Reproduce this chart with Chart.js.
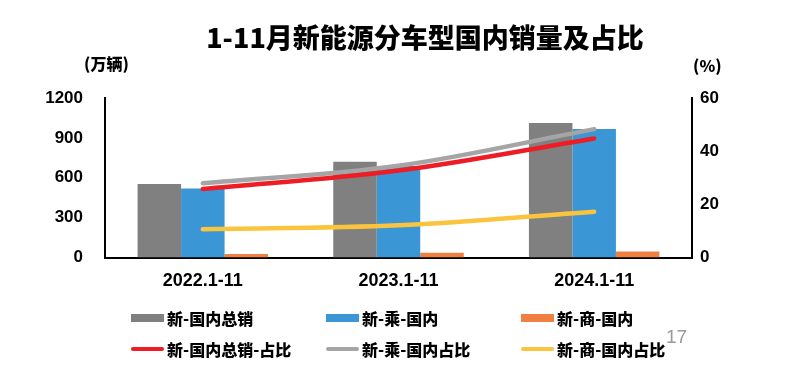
<!DOCTYPE html>
<html lang="zh-CN">
<head>
<meta charset="utf-8">
<title>1-11月新能源分车型国内销量及占比</title>
<script src="https://cdn.jsdelivr.net/npm/chart.js@4/dist/chart.umd.min.js"></script>
<style>
    body { margin: 0; background: #fff; }
    #wrap { position: relative; width: 811px; height: 380px; overflow: hidden; font-family: "Noto Sans CJK SC", "Noto Sans", sans-serif; }
    #chart { position: absolute; left: 0; top: 0; }
    .title { position: absolute; left: 0; width: 850px; top: 21px; text-align: center; font-size: 27px; font-weight: 900; line-height: 32px; color: #000; }
    .unit { position: absolute; font-size: 16px; font-weight: 900; line-height: 20px; color: #000; }
    #legend { position: absolute; left: 0; top: 0; width: 811px; height: 380px; pointer-events: none; }
    .item { position: absolute; display: flex; align-items: center; font-size: 16px; font-weight: 900; line-height: 20px; color: #000; white-space: nowrap; }
    .swatch { display: inline-block; width: 33px; margin-right: 3px; }
    .page { position: absolute; left: 666px; top: 326px; font-family: "Liberation Sans", sans-serif; font-size: 19px; color: #999; }
</style>
</head>
<body>
<div id="wrap">
    <canvas id="chart" width="811" height="380"></canvas>
    <div class="title">1-11月新能源分车型国内销量及占比</div>
    <div class="unit" style="left:84px; top:53px;">(万辆)</div>
    <div class="unit" style="left:693px; top:55px;">(%)</div>
    <div id="legend"></div>
    <div class="page">17</div>
</div>
<script>
// Datos del gráfico
const categories = ['2022.1-11', '2023.1-11', '2024.1-11'];
const totalDomestic = [553, 720, 1012];
const passengerDomestic = [520, 688, 966];
const commercialDomestic = [26, 36, 45];
const totalShare = [25.8, 32.7, 44.8];
const passengerShare = [27.9, 34.5, 48.3];
const commercialShare = [10.6, 12.1, 17.2];
const leftTicks = [0, 300, 600, 900, 1200];
const rightTicks = [0, 20, 40, 60];

// Área del gráfico (px)
const plotLeft = 105;
const plotRight = 692;
const plotTop = 98;
const plotBottom = 257.5;

const tickFont = { family: '"Liberation Sans", Arial, sans-serif', size: 17, weight: 'bold' };

function barSet(label, data, color) {
    return {
        type: 'bar',
        label: label,
        data: data,
        backgroundColor: color,
        borderWidth: 0,
        categoryPercentage: 0.667,
        barPercentage: 1,
        yAxisID: 'y',
        order: 2
    };
}

function lineSet(label, data, color) {
    return {
        type: 'line',
        label: label,
        data: data,
        borderColor: color,
        backgroundColor: color,
        borderWidth: 4.5,
        borderCapStyle: 'round',
        pointRadius: 0,
        tension: 0.35,
        fill: false,
        yAxisID: 'y1',
        order: 1
    };
}

const ctx = document.getElementById('chart').getContext('2d');
const chart = new Chart(ctx, {
    data: {
        labels: categories,
        datasets: [
            barSet('新-国内总销', totalDomestic, '#808080'),
            barSet('新-乘-国内', passengerDomestic, '#3a96d5'),
            barSet('新-商-国内', commercialDomestic, '#ef8042'),
            lineSet('新-国内总销-占比', totalShare, '#ee1c24'),
            lineSet('新-乘-国内占比', passengerShare, '#a5a5a5'),
            lineSet('新-商-国内占比', commercialShare, '#fbc43f')
        ]
    },
    options: {
        responsive: false,
        animation: false,
        layout: { padding: { top: plotTop, left: 0, right: 0, bottom: 0 } },
        plugins: {
            legend: { display: false },
            title: { display: false },
            tooltip: { enabled: false }
        },
        scales: {
            x: {
                grid: { display: false, drawTicks: false },
                border: { display: true, color: '#000', width: 2 },
                ticks: { color: '#000', padding: 13, font: { family: '"Liberation Sans", Arial, sans-serif', size: 18, weight: 'bold' } },
                afterFit: (s) => { s.height = 380 - plotBottom; }
            },
            y: {
                position: 'left',
                min: 0,
                max: 1200,
                afterBuildTicks: (s) => { s.ticks = leftTicks.map(v => ({ value: v })); },
                grid: { display: false, drawTicks: false },
                border: { display: true, color: '#000', width: 2 },
                ticks: { color: '#000', padding: 22, font: tickFont, callback: (v) => String(v) },
                afterFit: (s) => { s.width = plotLeft; }
            },
            y1: {
                position: 'right',
                min: 0,
                max: 60,
                afterBuildTicks: (s) => { s.ticks = rightTicks.map(v => ({ value: v })); },
                grid: { display: false, drawTicks: false },
                border: { display: true, color: '#000', width: 2 },
                ticks: { color: '#000', padding: 8, font: tickFont, callback: (v) => String(v) },
                afterFit: (s) => { s.width = 811 - plotRight; }
            }
        }
    }
});

// Leyenda en cuadrícula (3 columnas x 2 filas), tomada de los datasets
const legendDiv = document.getElementById('legend');
const colX = [131, 326, 521];
const rowY = [317.5, 349];
chart.data.datasets.forEach((ds, i) => {
    const item = document.createElement('div');
    item.className = 'item';
    item.style.left = colX[i % 3] + 'px';
    item.style.top = (rowY[Math.floor(i / 3)] - 10) + 'px';
    const sw = document.createElement('span');
    sw.className = 'swatch';
    sw.style.height = ds.type === 'bar' ? '8px' : '4px';
    sw.style.background = ds.type === 'bar' ? ds.backgroundColor : ds.borderColor;
    sw.style.borderRadius = ds.type === 'bar' ? '0' : '2px';
    item.appendChild(sw);
    item.appendChild(document.createTextNode(ds.label));
    legendDiv.appendChild(item);
});
</script>
</body>
</html>
